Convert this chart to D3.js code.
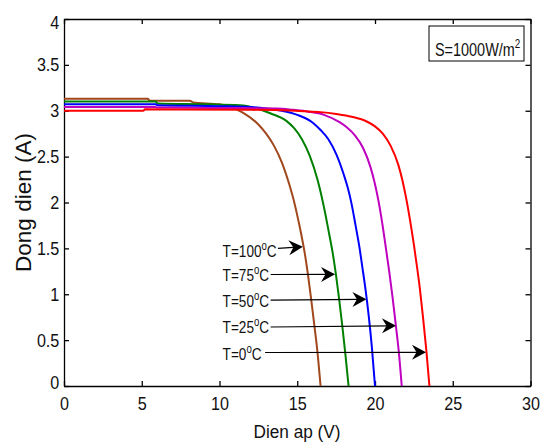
<!DOCTYPE html>
<html>
<head>
<meta charset="utf-8">
<title>Dong dien - Dien ap</title>
<style>
  body { margin: 0; background: #fff; }
  svg { display: block; font-family: "Liberation Sans", Arial, sans-serif; }
  .axis path, .axis line { stroke: #000; stroke-width: 1.3; }
  .axis text { fill: #111; font-size: 19px; }
  .curve { fill: none; stroke-width: 2; stroke-linejoin: round; }
  .arrow { stroke: #000; stroke-width: 1.2; }
</style>
</head>
<body>
<svg width="541" height="447"></svg>
<script src="https://cdn.jsdelivr.net/npm/d3@7"></script>
<script>
// values, [voltage (V), current (A)]
var temps = [100, 75, 50, 25, 0];

var curveT100 = [[0, 3.13], [5.4, 3.13], [5.5, 3.11], [8.1, 3.11], [8.3, 3.09], [10.0, 3.07], [10.5, 3.05],
  [11.5, 2.98], [12.5, 2.85], [13.0, 2.75], [13.5, 2.62], [14.0, 2.44], [14.5, 2.19], [14.75, 2.04],
  [15.0, 1.86], [15.25, 1.66], [15.5, 1.43], [15.7, 1.20], [15.9, 0.94], [16.1, 0.66], [16.3, 0.37],
  [16.5, 0]];
var curveT75 = [[0, 3.10], [5.9, 3.10], [6.0, 3.08], [9.0, 3.07], [11.3, 3.06], [12.3, 3.03], [13.3, 2.97],
  [14.3, 2.89], [14.8, 2.81], [15.3, 2.69], [15.8, 2.51], [16.3, 2.25], [16.55, 2.08], [16.8, 1.88],
  [17.05, 1.66], [17.3, 1.43], [17.5, 1.20], [17.7, 0.94], [17.9, 0.65], [18.1, 0.34], [18.3, 0]];
var curveT50 = [[0, 3.07], [5.9, 3.07], [6.0, 3.06], [10.0, 3.05], [12.0, 3.04], [13.0, 3.025], [14.0, 3.0],
  [15.0, 2.955], [16.0, 2.87], [16.5, 2.79], [17.0, 2.69], [17.5, 2.53], [18.0, 2.30], [18.25, 2.16],
  [18.5, 1.98], [18.75, 1.75], [19.0, 1.51], [19.2, 1.28], [19.4, 1.04], [19.6, 0.76], [19.8, 0.42],
  [20.0, 0]];
var curveT25 = [[0, 3.04], [5.9, 3.04], [6.0, 3.035], [10.0, 3.03], [13.72, 3.025], [14.72, 3.01],
  [15.72, 2.99], [16.72, 2.955], [17.72, 2.875], [18.22, 2.815], [18.72, 2.73], [19.22, 2.60],
  [19.72, 2.38], [19.97, 2.22], [20.22, 2.02], [20.47, 1.77], [20.72, 1.48], [20.92, 1.24],
  [21.12, 0.98], [21.32, 0.69], [21.52, 0.39], [21.72, 0]];
var curveT0 = [[0, 3.0], [5.1, 3.0], [5.2, 3.015], [12.0, 3.01], [14.5, 3.003], [15.5, 2.995], [16.5, 2.985],
  [17.5, 2.965], [18.5, 2.935], [19.5, 2.88], [20.0, 2.83], [20.5, 2.75], [21.0, 2.62], [21.5, 2.41],
  [21.75, 2.25], [22.0, 2.05], [22.25, 1.81], [22.5, 1.54], [22.7, 1.30], [22.9, 1.04], [23.1, 0.73],
  [23.3, 0.39], [23.5, 0]];
var curves = [curveT100, curveT75, curveT50, curveT25, curveT0];

// arrows: tail, tip and label anchor, in data units
var arrowTail = [[13.76, 1.50], [13.29, 1.215], [13.29, 0.937], [13.29, 0.643], [12.93, 0.365]];
var arrowTip = [[15.36, 1.518], [17.43, 1.217], [19.45, 0.945], [21.35, 0.657], [23.28, 0.367]];
var labelAt = [[10.2, 1.475], [10.2, 1.21], [10.2, 0.926], [10.2, 0.64], [10.2, 0.356]];

var xTicks = [0, 5, 10, 15, 20, 25, 30];
var yTicks = [0, 0.5, 1, 1.5, 2, 2.5, 3, 3.5, 4];
var colors = ["#a0471c", "#008000", "#0000ff", "#c000c0", "#ff0000"];

var svg = d3.select("svg");
var mLeft = 64, mRight = 530.5, mTop = 19, mBottom = 386;

var x = d3.scaleLinear().domain([0, 30]).range([mLeft, mRight]);
var y = d3.scaleLinear().domain([0, 4]).range([mBottom, mTop]);

// axes, ticks pointing inwards on all four sides
var gx = svg.append("g").attr("class", "axis")
  .attr("transform", "translate(0," + mBottom + ")")
  .call(d3.axisBottom(x).tickValues(xTicks).tickSize(-5).tickSizeOuter(0).tickFormat(d3.format("d")));
gx.selectAll("text").attr("y", 10.5).attr("dy", "0.71em").attr("transform", "scale(0.85,1)");

var gy = svg.append("g").attr("class", "axis")
  .attr("transform", "translate(" + mLeft + ",0)")
  .call(d3.axisLeft(y).tickValues(yTicks).tickSize(-5).tickSizeOuter(0).tickFormat(d3.format("")));
gy.selectAll("text").attr("x", -5.5).attr("transform", "scale(0.85,1)")
  .attr("y", function (d) { return d === 0 ? -4 : d === 4 ? 3.5 : 0; });

svg.append("g").attr("class", "axis")
  .attr("transform", "translate(0," + mTop + ")")
  .call(d3.axisTop(x).tickValues(xTicks).tickSize(-5).tickSizeOuter(0).tickFormat(""));
svg.append("g").attr("class", "axis")
  .attr("transform", "translate(" + mRight + ",0)")
  .call(d3.axisRight(y).tickValues(yTicks).tickSize(-5).tickSizeOuter(0).tickFormat(""));

// axis titles
svg.append("g").attr("transform", "translate(297,438) scale(0.93,1)")
  .append("text").attr("text-anchor", "middle").attr("font-size", 18.5).attr("fill", "#111")
  .text("Dien ap (V)");
svg.append("text")
  .attr("transform", "translate(31," + ((mTop + mBottom) / 2) + ") rotate(-90)")
  .attr("text-anchor", "middle").attr("font-size", 22.5).attr("fill", "#111")
  .text("Dong dien (A)");

// I-V curves
var line = d3.line()
  .x(function (d) { return x(d[0]); })
  .y(function (d) { return y(d[1]); })
  .curve(d3.curveMonotoneX);

svg.append("g").selectAll("path")
  .data(curves)
  .enter().append("path")
  .attr("class", "curve")
  .attr("stroke", function (d, i) { return colors[i]; })
  .attr("d", line);

// annotations
var ann = svg.append("g");
temps.forEach(function (t, i) {
  var x0 = x(arrowTail[i][0]), y0 = y(arrowTail[i][1]);
  var x1 = x(arrowTip[i][0]), y1 = y(arrowTip[i][1]);
  var a = Math.atan2(y1 - y0, x1 - x0);

  ann.append("line").attr("class", "arrow")
    .attr("x1", x0).attr("y1", y0)
    .attr("x2", x1 - 6 * Math.cos(a)).attr("y2", y1 - 6 * Math.sin(a));
  ann.append("path")
    .attr("transform", "translate(" + x1 + "," + y1 + ") rotate(" + (a * 180 / Math.PI) + ")")
    .attr("d", "M0,0L-14,-7.5L-9.5,0L-14,7.5Z")
    .attr("fill", "#000");

  var txt = ann.append("g")
    .attr("transform", "translate(" + x(labelAt[i][0]) + "," + (y(labelAt[i][1]) + 6.2) + ") scale(0.8,1)")
    .append("text").attr("font-size", 17).attr("fill", "#111");
  txt.append("tspan").text("T=" + t);
  txt.append("tspan").attr("dy", -7).attr("font-size", 12).text("o");
  txt.append("tspan").attr("dy", 7).text("C");
});

// irradiance box
svg.append("rect")
  .attr("x", 429).attr("y", 26).attr("width", 95).attr("height", 35)
  .attr("fill", "#fff").attr("stroke", "#000").attr("stroke-width", 1);
var s = svg.append("g").attr("transform", "translate(435,56) scale(0.76,1)")
  .append("text").attr("font-size", 19).attr("fill", "#111");
s.append("tspan").text("S=1000W/m");
s.append("tspan").attr("dy", -8).attr("font-size", 13).text("2");
</script>
</body>
</html>
